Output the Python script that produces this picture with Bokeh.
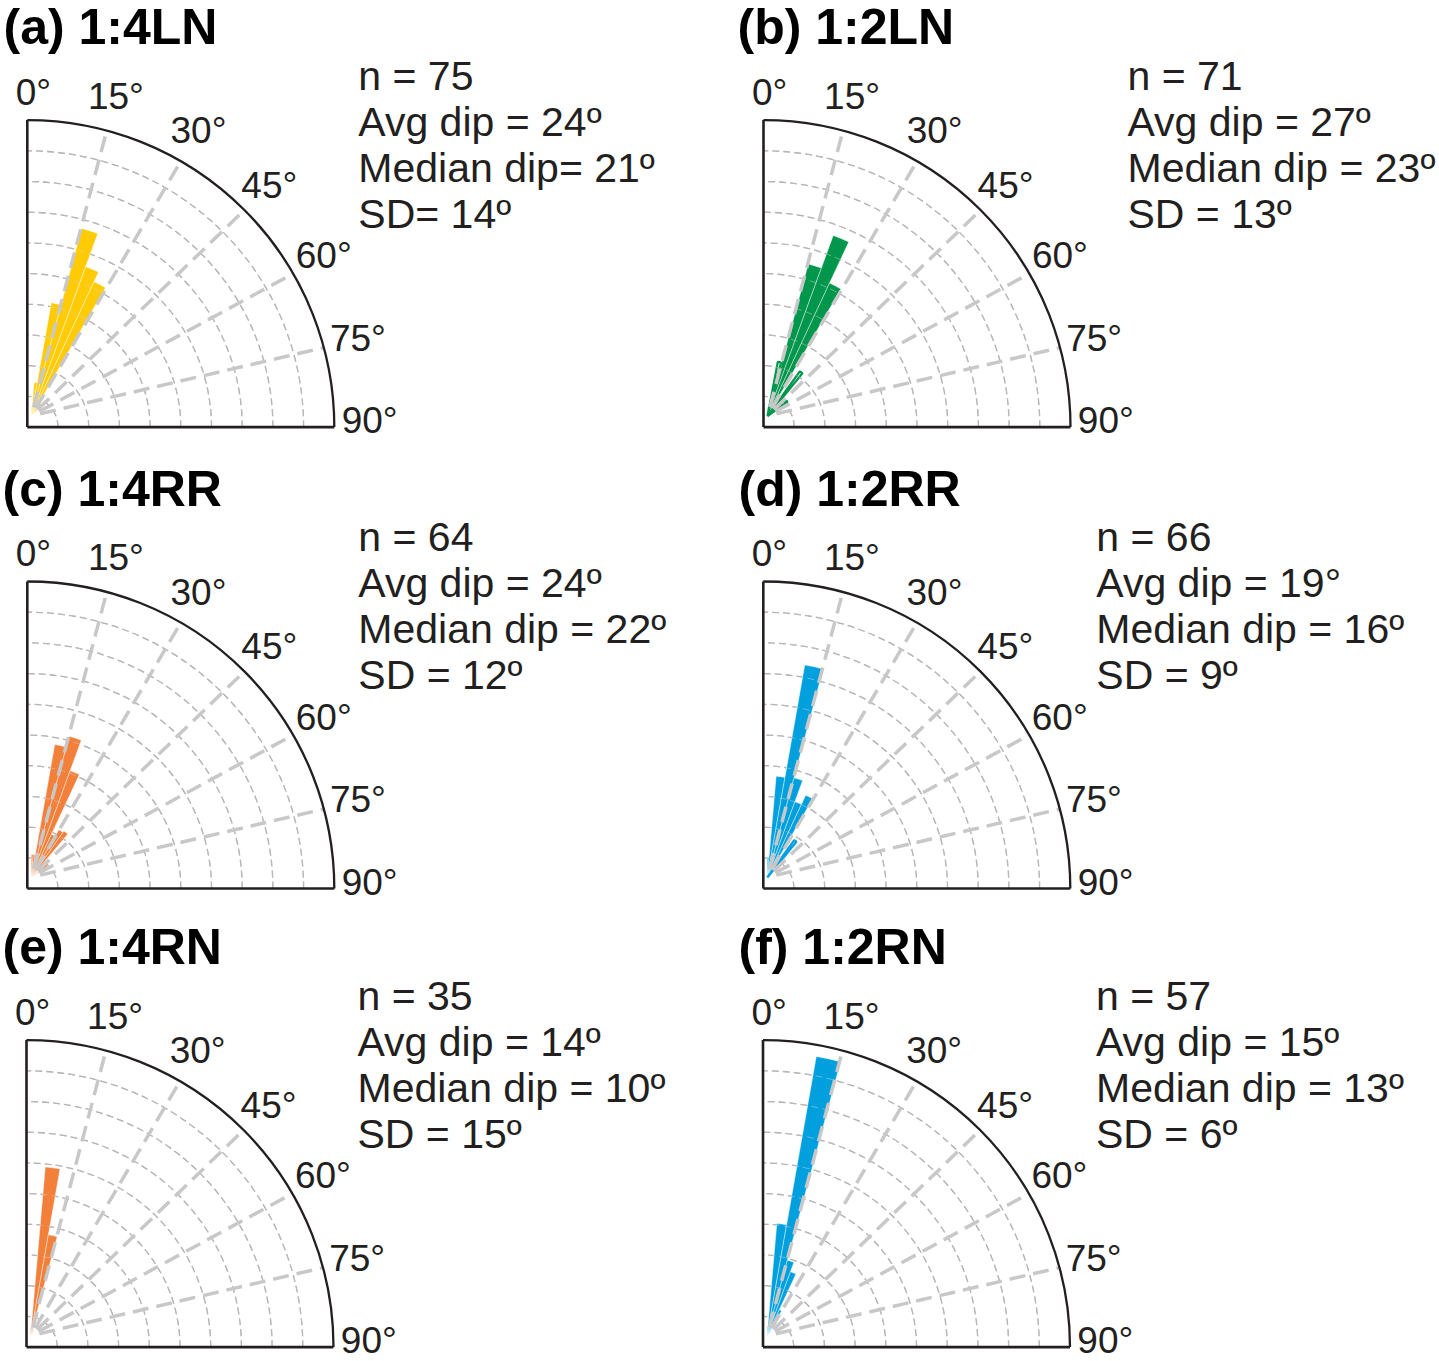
import math
from bokeh.plotting import figure
from bokeh.models import Range1d
from bokeh.embed import file_html
from bokeh.resources import INLINE
from bokeh.core.properties import value

# ---------------- data ----------------
bin_starts = [0, 5, 10, 15, 20, 25, 30, 35, 40, 45, 50, 55, 60, 65, 70, 75, 80, 85]
bin_width = 5
grid_angles = [15, 30, 45, 60, 75]
ring_values = [1, 2, 3, 4, 5, 6, 7, 8, 9]
ring_max = 10
tick_angles = [0, 15, 30, 45, 60, 75, 90]
tick_labels = ["0°", "15°", "30°", "45°", "60°", "75°", "90°"]

panel_keys = ["a", "b", "c", "d", "e", "f"]
titles = {"a": "(a) 1:4LN", "b": "(b) 1:2LN", "c": "(c) 1:4RR",
          "d": "(d) 1:2RR", "e": "(e) 1:4RN", "f": "(f) 1:2RN"}

# filled rose bars (radial length in ring units), 5-degree dip bins
bars_a = [0.3, 1.1, 3.75, 6.33, 5.18, 4.83, 0.4, 0.5, 0.7, 0, 0, 0, 0, 0, 0, 0, 0, 0]
bars_b = [0.3, 0.3, 0, 5.13, 6.26, 4.78, 0.3, 0, 0, 0, 0, 0, 0, 0, 0, 0, 0, 0]
bars_c = [0.75, 0.75, 4.4, 4.76, 3.7, 1.55, 1.8, 1.85, 0, 0, 0.7, 0, 0, 0, 0, 0, 0, 0]
bars_d = [0.65, 3.31, 7.03, 3.36, 2.63, 2.96, 0, 0, 0, 0, 0, 0, 0, 0, 0, 0, 0, 0]
bars_e = [0.3, 5.53, 3.35, 0.75, 0, 0.2, 0, 0, 0, 0, 0, 0, 0, 0, 0, 0, 0, 0]
bars_f = [0.3, 3.68, 9.25, 2.56, 2.23, 0.95, 0.2, 0, 0, 0, 0, 0, 0, 0, 0, 0, 0, 0]
# outlined (unfilled) rose bars
hollow_a = [0] * 18
hollow_b = [0, 0, 1.8, 0, 0, 0, 0, 1.8, 0, 0, 0.8, 0, 0, 0, 0, 0, 0, 0]
hollow_c = [0] * 18
hollow_d = [0, 0, 0, 0, 0, 0, 0, 1.5, 0, 0, 0, 0, 0, 0, 0, 0, 0, 0]
hollow_e = [0] * 18
hollow_f = [0] * 18

stats_a = ["n = 75", "Avg dip = 24º", "Median dip= 21º", "SD= 14º"]
stats_b = ["n = 71", "Avg dip = 27º", "Median dip = 23º", "SD = 13º"]
stats_c = ["n = 64", "Avg dip = 24º", "Median dip = 22º", "SD = 12º"]
stats_d = ["n = 66", "Avg dip = 19°", "Median dip = 16º", "SD = 9º"]
stats_e = ["n = 35", "Avg dip = 14º", "Median dip = 10º", "SD = 15º"]
stats_f = ["n = 57", "Avg dip = 15º", "Median dip = 13º", "SD = 6º"]

bars = dict(zip(panel_keys, [bars_a, bars_b, bars_c, bars_d, bars_e, bars_f]))
hollows = dict(zip(panel_keys, [hollow_a, hollow_b, hollow_c, hollow_d, hollow_e, hollow_f]))
stats = dict(zip(panel_keys, [stats_a, stats_b, stats_c, stats_d, stats_e, stats_f]))

# ---------------- style / layout ----------------
colors = {"a": "#FFCB05", "b": "#00964B", "c": "#F27F3A",
          "d": "#00A0DF", "e": "#F27F3A", "f": "#00A0DF"}
U = 30.7            # pixels per ring unit
W, H = 1439, 1361
# panel origin = corner of the quarter circle (screen px)
origins = {"a": (26.8, 426.6), "b": (763.0, 426.6),
           "c": (26.8, 888.0), "d": (762.8, 888.0),
           "e": (26.0, 1346.6), "f": (762.5, 1346.6)}
APEX_DX, APEX_DY = 4.0 / U, 11.0 / U   # rose apex sits slightly inside the corner
stats_dx = {"a": 331, "b": 364, "c": 331, "d": 333, "e": 331, "f": 333}
title_x = {"a": 3, "b": 737, "c": 2, "d": 738, "e": 2, "f": 738}
FONT = "Liberation Sans"
TXT = "#231f20"
DEG = dict(start_angle_units="deg", end_angle_units="deg", direction="anticlock")


def to_data(sx, sy):
    return sx / U, (H - sy) / U


p = figure(width=W, height=H, output_backend="svg", toolbar_location=None,
           x_range=Range1d(0, W / U), y_range=Range1d(0, H / U),
           x_axis_location=None, y_axis_location=None,
           min_border=0, outline_line_color=None, background_fill_color="white")
p.grid.visible = False

for k in panel_keys:
    ox, oy = to_data(*origins[k])
    ax, ay = ox + APEX_DX, oy + APEX_DY
    col = colors[k]
    # concentric dashed rings (under bars)
    p.arc(x=[ox] * len(ring_values), y=[oy] * len(ring_values), radius=ring_values,
          start_angle=0, end_angle=90, **DEG,
          line_color="#a0a0a0", line_width=1.3, line_dash="7 4")
    # filled bars
    xs, ys, rs, sa, ea = [], [], [], [], []
    for b0, v in zip(bin_starts, bars[k]):
        if v > 0:
            xs.append(ax); ys.append(ay); rs.append(v)
            sa.append(90 - (b0 + bin_width)); ea.append(90 - b0)
    p.wedge(x=xs, y=ys, radius=rs, start_angle=sa, end_angle=ea, **DEG,
            fill_color=col, line_color="white", line_width=0.6, line_alpha=0.7)
    # hollow bars
    xs, ys, rs, sa, ea = [], [], [], [], []
    for b0, v in zip(bin_starts, hollows[k]):
        if v > 0:
            xs.append(ax); ys.append(ay); rs.append(v)
            sa.append(90 - (b0 + bin_width) + 0.8); ea.append(90 - b0 - 0.8)
    if xs:
        p.wedge(x=xs, y=ys, radius=rs, start_angle=sa, end_angle=ea, **DEG,
                fill_color=None, line_color=col, line_width=2.2)
    # faint rings over bars
    p.arc(x=[ox] * len(ring_values), y=[oy] * len(ring_values), radius=ring_values,
          start_angle=0, end_angle=90, **DEG,
          line_color="#d8d8d8", line_width=0.8, line_dash="7 4", line_alpha=0.6)
    # radial dashed lines
    p.segment(x0=[ax + 0.3 * math.sin(math.radians(a)) for a in grid_angles],
              y0=[ay + 0.3 * math.cos(math.radians(a)) for a in grid_angles],
              x1=[ox + ring_max * math.sin(math.radians(a)) for a in grid_angles],
              y1=[oy + ring_max * math.cos(math.radians(a)) for a in grid_angles],
              line_color="#c8c8c8", line_width=3.5, line_dash="16 8")
    # frame: outer arc + axes
    p.arc(x=[ox], y=[oy], radius=[ring_max], start_angle=0, end_angle=90, **DEG,
          line_color="#231f20", line_width=2.3)
    p.segment(x0=[ox, ox], y0=[oy, oy], x1=[ox, ox + ring_max], y1=[oy + ring_max, oy],
              line_color="#231f20", line_width=2.6)
    # tick labels
    tx, ty = [], []
    for a in tick_angles:
        r = 11.15
        dx = r * math.sin(math.radians(a))
        dy = r * math.cos(math.radians(a))
        if a == 0:
            dx += 0.2; dy -= 0.25
        if a == 90:
            dy += 0.2
        tx.append(ox + dx); ty.append(oy + dy)
    p.text(x=tx, y=ty, text=tick_labels, text_font=value(FONT), text_font_size="37px",
           text_align="center", text_baseline="middle", text_color=TXT)
    # stats
    sx0 = ox + stats_dx[k] / U
    sy = [oy + (351.5 - 46 * i) / U for i in range(4)]
    p.text(x=[sx0] * 4, y=sy, text=stats[k], text_font=value(FONT), text_font_size="41px",
           text_align="left", text_baseline="middle", text_color=TXT)
    # title
    tx0, _ = to_data(title_x[k], 0)
    p.text(x=[tx0], y=[oy + 400 / U], text=[titles[k]], text_font=value(FONT),
           text_font_size="50px", text_font_style="bold", text_align="left",
           text_baseline="middle", text_color="#000000")

open("out.html", "w").write(file_html(p, INLINE))
